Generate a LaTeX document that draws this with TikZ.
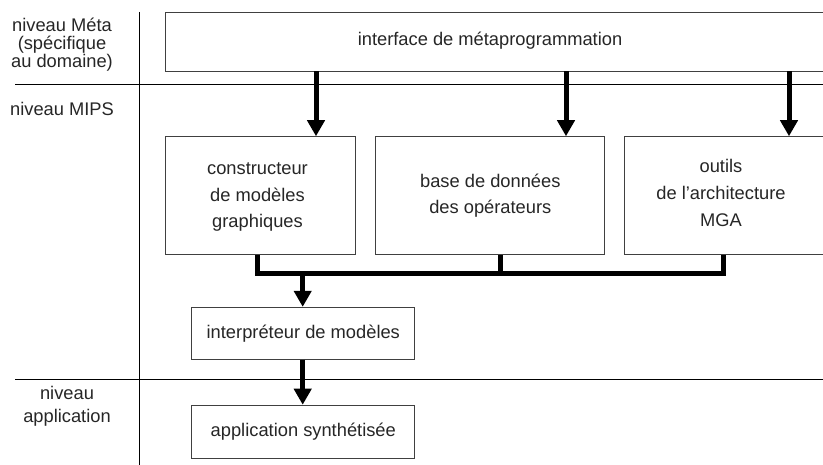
\documentclass[tikz,border=0pt]{standalone}
\usepackage{fontspec}
\setmainfont{Liberation Sans}
\usetikzlibrary{arrows.meta}
\begin{document}
\begin{tikzpicture}[x=1pt,y=-1pt,
  txt/.style={font=\fontsize{18.3}{26.7}\selectfont, align=center, text=black!85},
  box/.style={draw=black!75, line width=0.9pt, fill=white, inner sep=0pt, txt},
  sep/.style={draw=black, line width=0.9pt},
  arr/.style={line width=5pt, -{Triangle[width=17pt,length=16pt]}},
  bus/.style={line width=5pt, line join=miter}
]
\useasboundingbox (0,0) rectangle (823,465);
% separators
\draw[sep] (139,12) -- (139,465);
\draw[sep] (15,84) -- (823,84);
\draw[sep] (15,379) -- (823,379);
% level labels
\node[txt] (lmeta) at (62,45) {niveau Méta\\[-8.7pt](spécifique\\[-8.7pt]au domaine)};
\node[txt] (lmips) at (62,109) {niveau MIPS};
\node[txt] (lapp) at (67,406.5) {niveau\\[-3.7pt]application};
% boxes
\node[box, minimum width=675, minimum height=59] (top) at (502.5,41.5) {};
\node[txt] (toptxt) at (490,41) {interface de métaprogrammation};
\node[box, minimum width=190, minimum height=118] (b1) at (260.7,195.7) {};
\node[txt] (b1txt) at (257.5,197) {constructeur\\de modèles\\graphiques};
\node[box, minimum width=229, minimum height=118] (b2) at (490.3,195.7) {base de données\\des opérateurs};
\node[box, minimum width=210, minimum height=118] (b3) at (729.3,195.7) {};
\node[txt] (b3txt) at (721,193) {outils\\de l’architecture\\MGA};
\node[box, minimum width=223, minimum height=52] (interp) at (303.3,333.3) {interpréteur de modèles};
\node[box, minimum width=223, minimum height=53] (app) at (303.3,431.7) {application synthétisée};
% column coordinates
\coordinate (x1) at (316,0);
\coordinate (x2) at (566,0);
\coordinate (x3) at (789,0);
\coordinate (d1) at (257,274);
\coordinate (d2) at (500,274);
\coordinate (d3) at (723,274);
\coordinate (xo) at (302.7,274);
% arrows from top
\draw[arr] (top.south -| x1) -- (b1.north -| x1);
\draw[arr] (top.south -| x2) -- (b2.north -| x2);
\draw[arr] (top.south -| x3) -- (b3.north -| x3);
% bus
\draw[bus] (b1.south -| d1) -- (d1) -- (d3) -- (b3.south -| d3);
\draw[bus] (b2.south -| d2) -- (d2);
\draw[arr] (xo) -- (interp.north -| xo);
\draw[arr] (interp.south -| xo) -- (app.north -| xo);
\end{tikzpicture}
\end{document}
